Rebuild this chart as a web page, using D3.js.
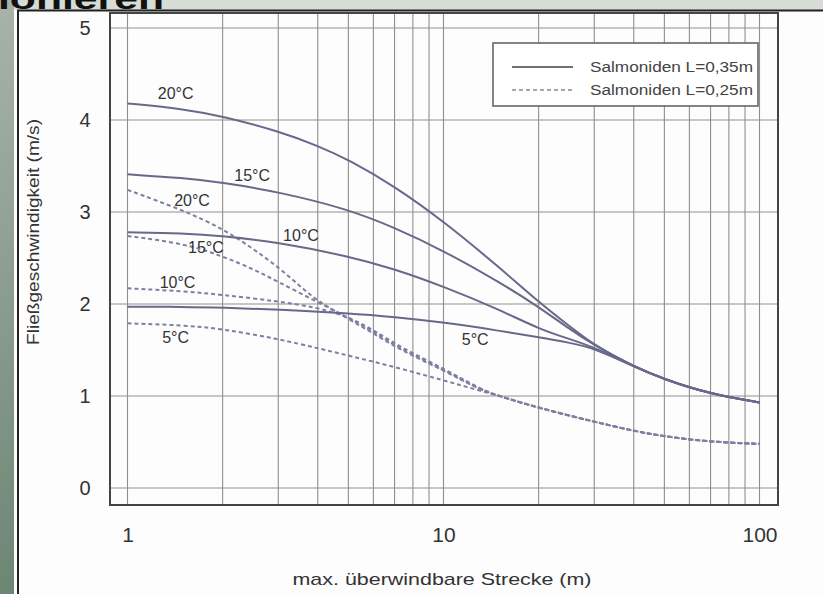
<!DOCTYPE html>
<html><head><meta charset="utf-8">
<script src="https://cdn.jsdelivr.net/npm/d3@7"></script>
<style>
html,body{margin:0;padding:0;background:#fff;}
svg{display:block;font-family:"Liberation Sans",Arial,Helvetica,sans-serif;}
</style></head>
<body><svg id="c" width="823" height="594"></svg>
<script>
// ---- data ----
const xTicks = [1, 10, 100];
const yTicks = [0, 1, 2, 3, 4, 5];
const xLabel = "max. überwindbare Strecke (m)";
const yLabel = "Fließgeschwindigkeit (m/s)";
const legendLabels = ["Salmoniden L=0,35m", "Salmoniden L=0,25m"];
// solid: L = 0,35 m  [distance m, velocity m/s]
const solid20 = [[1,4.18],[1.5,4.12],[2,4.04],[3,3.88],[4,3.72],[5,3.57],[7,3.28],[10,2.90],[15,2.40],[20,2.02],[25,1.76],[30,1.55],[40,1.32],[50,1.18],[70,1.02],[100,0.93]];
const solid15 = [[1,3.41],[1.5,3.37],[2,3.32],[3,3.22],[5,3.03],[7,2.83],[10,2.58],[15,2.24],[20,1.97],[25,1.73],[30,1.55],[40,1.32],[50,1.18],[70,1.02],[100,0.93]];
const solid10 = [[1,2.78],[1.5,2.77],[2,2.74],[3,2.67],[5,2.52],[7,2.38],[10,2.19],[15,1.94],[20,1.73],[25,1.62],[30,1.53],[40,1.32],[50,1.18],[70,1.02],[100,0.93]];
const solid5  = [[1,1.97],[1.5,1.97],[2,1.96],[3,1.94],[5,1.90],[7,1.86],[10,1.80],[15,1.71],[20,1.64],[25,1.58],[30,1.52],[40,1.32],[50,1.18],[70,1.02],[100,0.93]];
// dashed: L = 0,25 m
const dash20 = [[1,3.24],[1.5,3.02],[2,2.82],[2.5,2.60],[3,2.40],[3.5,2.20],[4,2.03],[5,1.84],[6,1.68],[7.3,1.50],[10,1.28],[13,1.07],[15,1.00],[20,0.87],[30,0.72],[40,0.62],[50,0.56],[70,0.50],[100,0.48]];
const dash15 = [[1,2.74],[1.5,2.66],[2,2.52],[2.5,2.38],[3,2.24],[4,2.02],[5,1.85],[6,1.70],[7.3,1.51],[10,1.29],[13,1.07],[15,1.00],[20,0.87],[30,0.72],[40,0.62],[50,0.56],[70,0.50],[100,0.48]];
const dash10 = [[1,2.17],[1.5,2.14],[2,2.10],[3,2.03],[4,1.96],[5,1.86],[6,1.72],[7.3,1.53],[10,1.30],[13,1.08],[15,1.00],[20,0.87],[30,0.72],[40,0.62],[50,0.56],[70,0.50],[100,0.48]];
const dash5  = [[1,1.79],[1.5,1.77],[2,1.73],[3,1.62],[4,1.52],[5,1.44],[7.3,1.30],[10,1.17],[13,1.06],[15,1.00],[20,0.87],[30,0.72],[40,0.62],[50,0.56],[70,0.50],[100,0.48]];
const curveLabels = [
  {t:"20°C", d:1.42, v:4.29}, {t:"15°C", d:2.48, v:3.40}, {t:"20°C", d:1.60, v:3.13},
  {t:"10°C", d:3.54, v:2.75}, {t:"15°C", d:1.77, v:2.62}, {t:"10°C", d:1.44, v:2.23},
  {t:"5°C", d:1.42, v:1.64}, {t:"5°C", d:12.6, v:1.62}
];

// ---- drawing ----
const svg = d3.select("#c");
const defs = svg.append("defs");
const g1 = defs.append("linearGradient").attr("id","strip").attr("x1",0).attr("y1",0).attr("x2",0).attr("y2",1);
g1.append("stop").attr("offset","0").attr("stop-color","#a9b3a8");
g1.append("stop").attr("offset","1").attr("stop-color","#6c8674");

svg.append("rect").attr("x",0).attr("y",0).attr("width",823).attr("height",594).attr("fill","#fdfdfd");
svg.append("rect").attr("x",0).attr("y",0).attr("width",823).attr("height",10).attr("fill","#d6dcd6");
svg.append("rect").attr("x",0).attr("y",0).attr("width",14).attr("height",594).attr("fill","url(#strip)");
svg.append("text").attr("x",-2).attr("y",9).attr("font-size",30).attr("font-weight","bold")
  .attr("fill","#111").attr("textLength",166).attr("lengthAdjust","spacingAndGlyphs").text("ionieren");
svg.append("line").attr("x1",17).attr("x2",823).attr("y1",10.5).attr("y2",10.5).attr("stroke","#222").attr("stroke-width",2);
svg.append("line").attr("x1",18).attr("x2",18).attr("y1",10).attr("y2",594).attr("stroke","#222").attr("stroke-width",2);

const x = d3.scaleLog().domain([1,100]).range([127.5,759.5]);
const y = d3.scaleLinear().domain([0,5]).range([488,28]);
const L = 110, R = 778, T = 13, B = 505;

// grid
const vGrid = [];
for (let k = 1; k <= 100; k++) { if (k <= 10 || (k % 10 === 0)) vGrid.push(k); }
svg.append("g").selectAll("line").data(vGrid).join("line")
  .attr("x1",d=>x(d)).attr("x2",d=>x(d)).attr("y1",T).attr("y2",B)
  .attr("stroke","#8f8f8f").attr("stroke-width",1.1);
svg.append("g").selectAll("line").data(yTicks).join("line")
  .attr("x1",L).attr("x2",R).attr("y1",d=>y(d)).attr("y2",d=>y(d))
  .attr("stroke","#8f8f8f").attr("stroke-width",1.1);
svg.append("rect").attr("x",L).attr("y",T).attr("width",R-L).attr("height",B-T)
  .attr("fill","none").attr("stroke","#444").attr("stroke-width",2);

// tick labels via axes
const yAxis = svg.append("g").attr("transform",`translate(${L},0)`)
  .call(d3.axisLeft(y).tickValues(yTicks).tickSize(0).tickPadding(21).tickFormat(d3.format("d")));
yAxis.select(".domain").remove();
yAxis.selectAll("text").attr("font-size",20).attr("fill","#333").attr("text-anchor","middle")
  .attr("font-family","Liberation Sans, Arial, sans-serif").attr("dx","-0.2em");
const xAxis = svg.append("g").attr("transform",`translate(0,${B})`)
  .call(d3.axisBottom(x).tickValues(xTicks).tickSize(0).tickPadding(22).tickFormat(d3.format("d")));
xAxis.select(".domain").remove();
xAxis.selectAll("text").attr("font-size",21).attr("fill","#333")
  .attr("font-family","Liberation Sans, Arial, sans-serif");

svg.append("text").attr("x",442).attr("y",585).attr("text-anchor","middle").attr("font-size",17)
  .attr("fill","#333").attr("textLength",299).attr("lengthAdjust","spacingAndGlyphs").text(xLabel);
svg.append("text").attr("transform","translate(39,232) rotate(-90)").attr("text-anchor","middle")
  .attr("font-size",16).attr("fill","#333").attr("textLength",226).attr("lengthAdjust","spacingAndGlyphs").text(yLabel);

// curves
const line = d3.line().x(d=>x(d[0])).y(d=>y(d[1])).curve(d3.curveBasis);
const solidColor = "#66698a", dashColor = "#7d80a0";
[dash5, dash10, dash15, dash20].forEach(s => {
  svg.append("path").attr("d",line(s)).attr("fill","none").attr("stroke",dashColor)
    .attr("stroke-width",2).attr("stroke-dasharray","4,3");
});
[solid5, solid10, solid15, solid20].forEach(s => {
  svg.append("path").attr("d",line(s)).attr("fill","none").attr("stroke",solidColor).attr("stroke-width",2);
});

// curve labels
svg.append("g").selectAll("text").data(curveLabels).join("text")
  .attr("x",d=>x(d.d)).attr("y",d=>y(d.v)).attr("dy","0.35em").attr("text-anchor","middle")
  .attr("font-size",16).attr("fill","#333").text(d=>d.t);

// legend
const lg = svg.append("g");
lg.append("rect").attr("x",493).attr("y",43).attr("width",265).attr("height",63)
  .attr("fill","#fff").attr("stroke","#666").attr("stroke-width",1.6);
legendLabels.forEach((t,i) => {
  const yy = 67 + i*23;
  lg.append("line").attr("x1",512).attr("x2",573).attr("y1",yy).attr("y2",yy)
    .attr("stroke", i===0 ? "#707070" : "#8a8a8a").attr("stroke-width", i===0 ? 2 : 1.5)
    .attr("stroke-dasharray", i===0 ? null : "4,3");
  lg.append("text").attr("x",590).attr("y",yy).attr("dy","0.35em").attr("font-size",14)
    .attr("fill","#444").attr("textLength",163).attr("lengthAdjust","spacingAndGlyphs").text(t);
});
</script></body></html>
